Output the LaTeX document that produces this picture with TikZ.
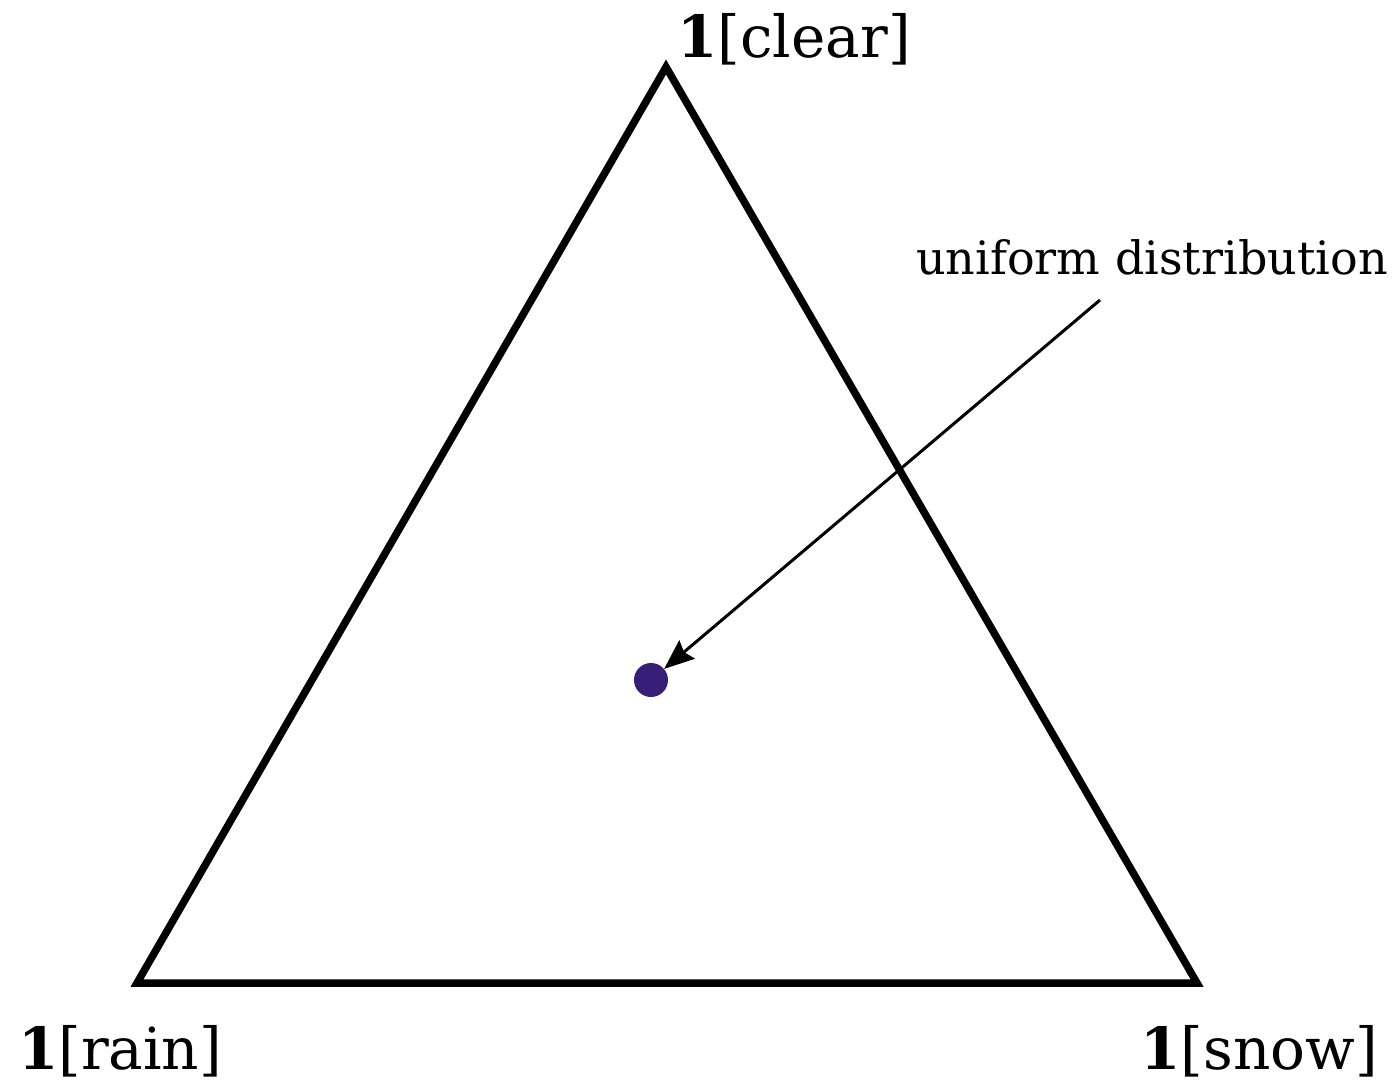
\documentclass[tikz,border=0pt]{standalone}
\usepackage{fontspec}
\setmainfont{DejaVu Serif}
\usetikzlibrary{arrows.meta}
\definecolor{dotcol}{RGB}{55,30,120}
\tikzset{
  vlabel/.style={font=\fontsize{58}{68}\selectfont, inner sep=0pt, anchor=base},
  alabel/.style={font=\fontsize{46}{54}\selectfont, inner sep=0pt, anchor=base},
  tri/.style={line width=7.5pt, line join=miter, draw=black},
  pointer/.style={line width=3pt, -{Stealth[length=30pt,width=24pt,inset=4pt]}}
}
\begin{document}
\begin{tikzpicture}[x=1pt,y=-1pt]
\useasboundingbox (0,0) rectangle (1396,1081);
\coordinate (top) at (666,67);
\coordinate (bl) at (137,983);
\coordinate (br) at (1197,983);
\draw[tri] (top) -- (bl) -- (br) -- cycle;
\node[vlabel] (clear) at (794,58) {\textbf{1}[clear]};
\node[vlabel] (rain) at (120,1069) {\textbf{1}[rain]};
\node[vlabel] (snow) at (1259,1069) {\textbf{1}[snow]};
\node[alabel] (unif) at (1152,274) {uniform distribution};
\node[circle, fill=dotcol, minimum size=34pt, inner sep=0pt] (dot) at (651,680) {};
\coordinate (start) at (1100,300);
\draw[pointer] (start) -- (dot);
\end{tikzpicture}
\end{document}
